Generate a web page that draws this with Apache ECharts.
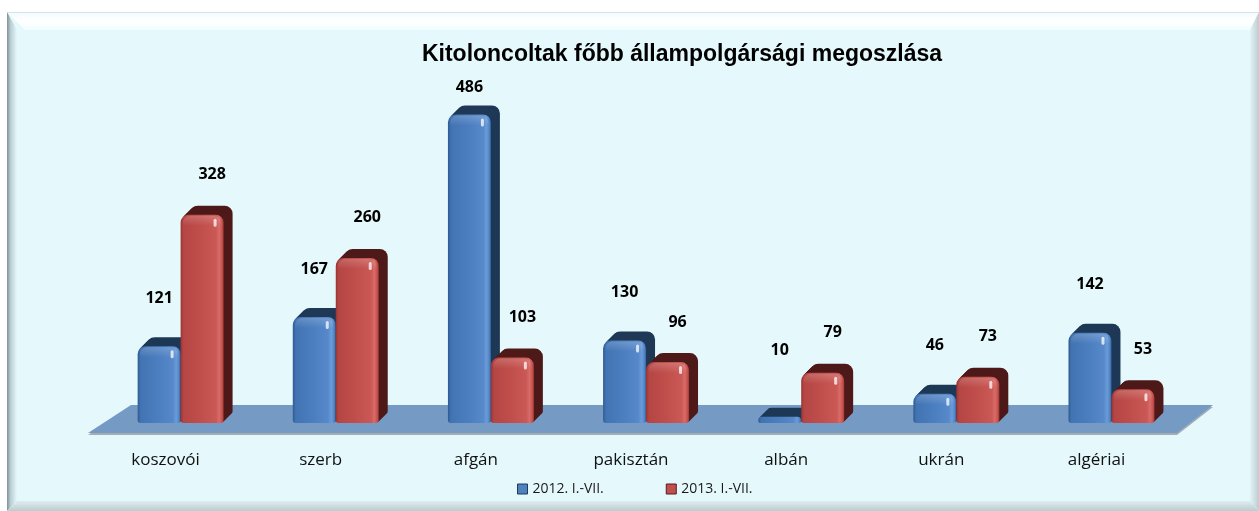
<!DOCTYPE html>
<html>
<head>
<meta charset="utf-8">
<script src="https://cdn.jsdelivr.net/npm/echarts@6/dist/echarts.min.js"></script>
<style>
  html, body { margin: 0; padding: 0; background: #ffffff; }
  #chart { width: 1259px; height: 511px; }
</style>
</head>
<body>
<div id="chart"></div>
<script>
// Deportees by main nationality, Jan-Jul 2012 vs Jan-Jul 2013
const categories = ['koszovói', 'szerb', 'afgán', 'pakisztán', 'albán', 'ukrán', 'algériai'];
const seriesNames = ['2012. I.-VII.', '2013. I.-VII.'];
const values2012 = [121, 167, 486, 130, 10, 46, 142];
const values2013 = [328, 260, 103, 96, 79, 73, 53];
const chartTitle = 'Kitoloncoltak főbb állampolgársági megoszlása';

const palettes = [
  { // blue series
    legend: '#4F81BD', legendBorder: '#1F3A5C',
    dark: '#1E3856',
    stops: [[0, '#2F5A92'], [0.07, '#4274B3'], [0.5, '#4C7FC0'], [0.82, '#5789CA'], [0.9, '#6A9BD9'], [0.96, '#5286C6'], [1, '#34619B']],
    labelGap: 48, labelDx: 0
  },
  { // red series
    legend: '#C0504D', legendBorder: '#561C1B',
    dark: '#4E1A19',
    stops: [[0, '#993533'], [0.07, '#B54644'], [0.5, '#C14F4C'], [0.82, '#CA5855'], [0.9, '#D86B68'], [0.96, '#C8534F'], [1, '#A03B38']],
    labelGap: 40, labelDx: 10
  }
];

const DEPTH = 9;

function makeBarRenderer(slot) {
  const pal = palettes[slot];
  return function (params, api) {
    const idx = api.value(0);
    const v = api.value(1);
    const top = api.coord([idx, v]);
    const base = api.coord([idx, 0]);
    const band = api.size([1, 0])[0];
    const w = band * 0.277;
    const shift = band * 0.097;
    const x0 = top[0] + shift + (slot === 0 ? -w : 0);
    const yTop = top[1];
    const yBase = base[1];
    const h = Math.max(yBase - yTop, 1);
    const rt = Math.min(8, h * 0.6);
    const rb = Math.min(3, h * 0.3);
    const children = [];
    // extruded body (top and side faces)
    for (let k = DEPTH; k >= 1; k--) {
      children.push({
        type: 'rect',
        shape: { x: x0 + k, y: yTop - k, width: w, height: h, r: [rt, rt, rb, rb] },
        style: { fill: pal.dark }
      });
    }
    // front face
    children.push({
      type: 'rect',
      shape: { x: x0, y: yTop, width: w, height: h, r: [rt, rt, rb, rb] },
      style: {
        fill: new echarts.graphic.LinearGradient(0, 0, 1, 0,
          pal.stops.map(s => ({ offset: s[0], color: s[1] })))
      }
    });
    if (h > 14) {
      // soft top sheen
      children.push({
        type: 'rect',
        shape: { x: x0 + 2, y: yTop + 1, width: w - 4, height: 10, r: [rt, rt, 0, 0] },
        style: {
          fill: new echarts.graphic.LinearGradient(0, 0, 0, 1, [
            { offset: 0, color: 'rgba(255,255,255,0.18)' },
            { offset: 1, color: 'rgba(255,255,255,0)' }
          ])
        }
      });
      // glint
      children.push({
        type: 'rect',
        shape: { x: x0 + w - 10, y: yTop + 4, width: 3, height: 8, r: 1.5 },
        style: { fill: 'rgba(255,255,255,0.75)' }
      });
    }
    // value label: above the bar, never too close to the floor nor into the title
    let ly = Math.min(yTop - pal.labelGap, yBase - 73);
    ly = Math.max(ly, params.coordSys.y - 18);
    children.push({
      type: 'text',
      z2: 100,
      style: {
        text: String(v),
        x: x0 + w / 2 + pal.labelDx,
        y: ly,
        align: 'center',
        verticalAlign: 'middle',
        fontFamily: '"Open Sans", sans-serif',
        fontWeight: 'bold',
        fontSize: 16,
        fill: '#000000'
      }
    });
    return { type: 'group', children: children };
  };
}

const chart = echarts.init(document.getElementById('chart'), null, { renderer: 'canvas' });

const W = 1259, H = 511;

const option = {
  backgroundColor: '#ffffff',
  animation: false,
  title: {
    text: chartTitle,
    left: 677,
    top: 38,
    textAlign: 'center',
    textStyle: { fontFamily: '"Liberation Sans", Arial, sans-serif', fontWeight: 'bold', fontSize: 23, color: '#000000' }
  },
  legend: {
    left: 517,
    top: 482,
    padding: 0,
    itemWidth: 10,
    itemHeight: 10,
    itemGap: 62,
    icon: 'rect',
    textStyle: { fontFamily: '"Open Sans", sans-serif', fontSize: 14, color: '#1a1a1a' },
    data: seriesNames.map((n, i) => ({
      name: n,
      itemStyle: { color: palettes[i].legend, borderColor: palettes[i].legendBorder, borderWidth: 1 }
    }))
  },
  grid: { left: 88, right: 85, top: 105.5, bottom: 88 },
  xAxis: {
    type: 'category',
    data: categories,
    axisLine: { show: false },
    axisTick: { show: false },
    axisLabel: { margin: 29, fontFamily: '"Open Sans", sans-serif', fontSize: 17, color: '#111111' }
  },
  yAxis: { type: 'value', min: 0, max: 500, show: false },
  graphic: [
    // chart area with bevelled frame
    { type: 'rect', z: -10, shape: { x: 7, y: 12, width: W - 7, height: H - 12 }, style: { fill: '#E5F9FC' } },
    { type: 'polygon', z: -9, shape: { points: [[7, 12], [W, 12], [W - 9, 30], [25, 30]] },
      style: { fill: new echarts.graphic.LinearGradient(0, 0, 0, 1, [
        { offset: 0, color: '#C9D6DA' }, { offset: 0.08, color: '#F4FCFD' }, { offset: 0.5, color: '#FFFFFF' }, { offset: 1, color: '#F2FDFF' }]) } },
    { type: 'polygon', z: -9, shape: { points: [[7, 12], [17, 30], [17, H - 10], [7, H]] },
      style: { fill: new echarts.graphic.LinearGradient(0, 0, 1, 0, [
        { offset: 0, color: '#7F9198' }, { offset: 0.35, color: '#B9CCD2' }, { offset: 1, color: '#E5F9FC' }]) } },
    { type: 'polygon', z: -9, shape: { points: [[W - 9, 30], [W, 12], [W, H], [W - 9, H - 10]] },
      style: { fill: new echarts.graphic.LinearGradient(0, 0, 1, 0, [
        { offset: 0, color: '#E2F4F7' }, { offset: 1, color: '#BCCBD0' }]) } },
    { type: 'polygon', z: -9, shape: { points: [[17, H - 10], [W - 9, H - 10], [W, H], [7, H]] },
      style: { fill: new echarts.graphic.LinearGradient(0, 0, 0, 1, [
        { offset: 0, color: '#DCEDF0' }, { offset: 1, color: '#BECBCF' }]) } },
    // floor
    { type: 'polygon', z: -5, shape: { points: [[88, 435], [1177, 435], [1213, 407], [131, 407]] },
      style: { fill: '#A3ADB4' } },
    { type: 'polygon', z: -4, shape: { points: [[88, 433], [1177, 433], [1213, 405], [131, 405]] },
      style: { fill: '#759BC4' } }
  ],
  series: [
    {
      name: seriesNames[0],
      type: 'custom',
      itemStyle: { color: palettes[0].legend },
      renderItem: makeBarRenderer(0),
      encode: { x: 0, y: 1 },
      data: values2012.map((v, i) => [i, v])
    },
    {
      name: seriesNames[1],
      type: 'custom',
      itemStyle: { color: palettes[1].legend },
      renderItem: makeBarRenderer(1),
      encode: { x: 0, y: 1 },
      data: values2013.map((v, i) => [i, v])
    }
  ]
};

chart.setOption(option);
</script>
</body>
</html>
